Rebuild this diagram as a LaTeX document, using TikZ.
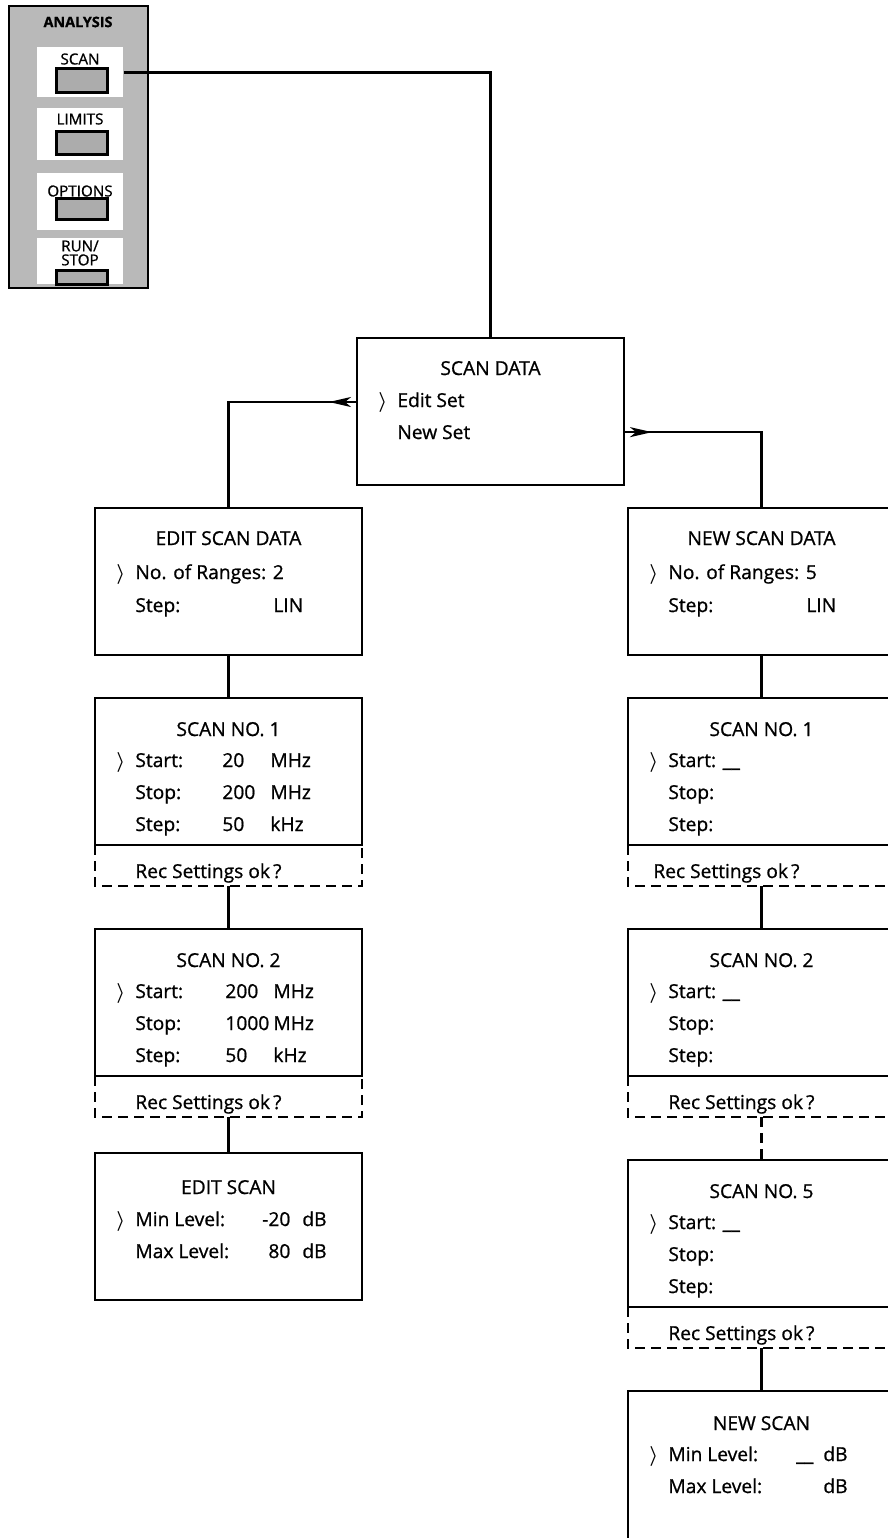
\documentclass[tikz,border=0pt]{standalone}
\usepackage{fontspec}
\setmainfont{Open Sans}[FakeBold=0.9]
\usetikzlibrary{positioning, arrows.meta, decorations.markings}

\newcommand{\selmark}{\llap{$\boldsymbol{\rangle}$\hspace{5pt}}}
\usepackage{amsmath}

\tikzset{
  scr/.style={draw, line width=1.3pt, minimum width=133.5pt, minimum height=73.5pt, inner sep=0pt, outer sep=0pt},
  recbox/.style={minimum width=133.5pt, minimum height=20.5pt, inner sep=0pt, outer sep=0pt},
  recline/.style={line width=1.1pt, dash pattern=on 5pt off 3pt},
  ln/.style={anchor=base west, inner sep=0pt, font=\fontsize{9.6}{11}\selectfont},
  ttl/.style={anchor=base, inner sep=0pt, font=\fontsize{9.6}{11}\selectfont},
  conn/.style={line width=1.2pt},
  tipmark/.style={postaction={decorate, decoration={markings, mark=at position #1 with {\arrow{Stealth[length=11pt, width=5pt, inset=3pt]}}}}},
  panel/.style={draw, line width=1.2pt, fill=gray!55, anchor=north west, inner sep=0pt, minimum width=69.5pt, minimum height=141pt},
  keyarea/.style={fill=white, anchor=north west, inner sep=0pt, minimum width=43pt},
  keybtn/.style={draw, line width=1.6pt, fill=gray!65, anchor=north west, inner sep=0pt, minimum width=25.5pt},
  keylbl/.style={inner sep=0pt, align=center, font=\fontsize{7.6}{7}\selectfont}
}

\begin{document}
\begin{tikzpicture}[x=0.5pt, y=-0.5pt, node distance=21.5pt]
\useasboundingbox (0,0) rectangle (888,1538);

% analysis keys
\node[panel] (pnl) at (8,5) {};
\node[keylbl, font=\bfseries\fontsize{7.2}{7.5}\selectfont] (pnl-t) at (78,22) {ANALYSIS};
\node[keyarea, minimum height=25pt] (kscan) at (37,47) {};
\node[keyarea, minimum height=26pt] (klim) at (37,108) {};
\node[keyarea, minimum height=28.5pt] (kopt) at (37,173) {};
\node[keyarea, minimum height=23pt] (krun) at (37,238) {};
\node[keybtn, minimum height=12pt] (bscan) at (55,67) {};
\node[keybtn, minimum height=11.5pt] (blim) at (55,130) {};
\node[keybtn, minimum height=10.5pt] (bopt) at (55,197) {};
\node[keybtn, minimum height=7pt] (brun) at (55,269) {};
\node[keylbl] (lscan) at (80,59) {SCAN};
\node[keylbl] (llim) at (80,119) {LIMITS};
\node[keylbl] (lopt) at (80,191) {OPTIONS};
\node[keylbl] (lrun) at (80,253) {RUN/\\STOP};

% scan data
\node[scr, anchor=north west] (sd) at (357,338) {};
\node[ttl] (sd-t) at ([shift={(0,37)}]sd.north) {SCAN DATA};
\node[ln] (sd-1) at ([shift={(40,69)}]sd.north west) {\selmark Edit Set};
\node[ln] (sd-2) at ([shift={(40,101)}]sd.north west) {New Set};

% edit branch
\node[scr, anchor=north west] (eds) at (95,508) {};
\node[ttl] (eds-t) at ([shift={(0,37)}]eds.north) {EDIT SCAN DATA};
\node[ln] (eds-1) at ([shift={(40,71)}]eds.north west) {\selmark No. of Ranges: 2};
\node[ln] (eds-2) at ([shift={(40,104)}]eds.north west) {\makebox[69pt][l]{Step:}LIN};

\node[scr, below=of eds] (s1) {};
\node[ttl] (s1-t) at ([shift={(0,38)}]s1.north) {SCAN NO. 1};
\node[ln] (s1-1) at ([shift={(40,69)}]s1.north west) {\selmark\makebox[43.5pt][l]{Start:}\makebox[24pt][l]{20}MHz};
\node[ln] (s1-2) at ([shift={(40,101)}]s1.north west) {\makebox[43.5pt][l]{Stop:}\makebox[24pt][l]{200}MHz};
\node[ln] (s1-3) at ([shift={(40,133)}]s1.north west) {\makebox[43.5pt][l]{Step:}\makebox[24pt][l]{50}kHz};
\node[recbox, below=0pt of s1] (r1) {};
\node[ln] (r1-t) at ([shift={(40,33)}]r1.north west) {Rec Settings ok\,?};

\node[scr, below=of r1] (s2) {};
\node[ttl] (s2-t) at ([shift={(0,38)}]s2.north) {SCAN NO. 2};
\node[ln] (s2-1) at ([shift={(40,69)}]s2.north west) {\selmark\makebox[45pt][l]{Start:}\makebox[24pt][l]{200}MHz};
\node[ln] (s2-2) at ([shift={(40,101)}]s2.north west) {\makebox[45pt][l]{Stop:}\makebox[24pt][l]{1000}MHz};
\node[ln] (s2-3) at ([shift={(40,133)}]s2.north west) {\makebox[45pt][l]{Step:}\makebox[24pt][l]{50}kHz};
\node[recbox, below=0pt of s2] (r2) {};
\node[ln] (r2-t) at ([shift={(40,33)}]r2.north west) {Rec Settings ok\,?};

\node[scr, below=18pt of r2] (es) {};
\node[ttl] (es-t) at ([shift={(0,41)}]es.north) {EDIT SCAN};
\node[ln] (es-1) at ([shift={(40,73)}]es.north west) {\selmark\makebox[77.5pt]{Min Level:\hfill-20}\hspace{6pt}dB};
\node[ln] (es-2) at ([shift={(40,105)}]es.north west) {\makebox[77.5pt]{Max Level:\hfill 80}\hspace{6pt}dB};

% new branch
\node[scr, anchor=north west] (nds) at (628,508) {};
\node[ttl] (nds-t) at ([shift={(0,37)}]nds.north) {NEW SCAN DATA};
\node[ln] (nds-1) at ([shift={(40,71)}]nds.north west) {\selmark No. of Ranges: 5};
\node[ln] (nds-2) at ([shift={(40,104)}]nds.north west) {\makebox[69pt][l]{Step:}LIN};

\node[scr, below=of nds] (t1) {};
\node[ttl] (t1-t) at ([shift={(0,38)}]t1.north) {SCAN NO. 1};
\node[ln] (t1-1) at ([shift={(40,69)}]t1.north west) {\selmark Start: \_\_};
\node[ln] (t1-2) at ([shift={(40,101)}]t1.north west) {Stop:};
\node[ln] (t1-3) at ([shift={(40,133)}]t1.north west) {Step:};
\node[recbox, below=0pt of t1] (q1) {};
\node[ln] (q1-t) at ([shift={(25,33)}]q1.north west) {Rec Settings ok\,?};

\node[scr, below=of q1] (t2) {};
\node[ttl] (t2-t) at ([shift={(0,38)}]t2.north) {SCAN NO. 2};
\node[ln] (t2-1) at ([shift={(40,69)}]t2.north west) {\selmark Start: \_\_};
\node[ln] (t2-2) at ([shift={(40,101)}]t2.north west) {Stop:};
\node[ln] (t2-3) at ([shift={(40,133)}]t2.north west) {Step:};
\node[recbox, below=0pt of t2] (q2) {};
\node[ln] (q2-t) at ([shift={(40,33)}]q2.north west) {Rec Settings ok\,?};

\node[scr, below=of q2] (t5) {};
\node[ttl] (t5-t) at ([shift={(0,38)}]t5.north) {SCAN NO. 5};
\node[ln] (t5-1) at ([shift={(40,69)}]t5.north west) {\selmark Start: \_\_};
\node[ln] (t5-2) at ([shift={(40,101)}]t5.north west) {Stop:};
\node[ln] (t5-3) at ([shift={(40,133)}]t5.north west) {Step:};
\node[recbox, below=0pt of t5] (q5) {};
\node[ln] (q5-t) at ([shift={(40,33)}]q5.north west) {Rec Settings ok\,?};

\node[scr, below=of q5, minimum height=90pt] (ns) {};
\node[ttl] (ns-t) at ([shift={(0,39)}]ns.north) {NEW SCAN};
\node[ln] (ns-1) at ([shift={(40,70)}]ns.north west) {\selmark\makebox[72.5pt]{Min Level:\hfill\_\_}\hspace{5pt}dB};
\node[ln] (ns-2) at ([shift={(40,102)}]ns.north west) {\makebox[72.5pt][l]{Max Level:}\hspace{5pt}dB};

% dashed rec frames
\foreach \r in {r1, r2, q1, q2, q5}
  \draw[recline] (\r.north west) -- (\r.south west) -- (\r.south east) -- (\r.north east);

% connectors
\draw[conn] (kscan.east) -| (sd.north);
\draw[conn, tipmark=14pt] (sd.west |- sd-1) -| (eds.north);
\draw[conn, tipmark=14pt] (sd.east |- sd-2) -| (nds.north);
\draw[conn] (eds) -- (s1);
\draw[conn] (r1) -- (s2);
\draw[conn] (r2) -- (es);
\draw[conn] (nds) -- (t1);
\draw[conn] (q1) -- (t2);
\draw[conn, recline] (q2) -- (t5);
\draw[conn] (q5) -- (ns);
\end{tikzpicture}
\end{document}
